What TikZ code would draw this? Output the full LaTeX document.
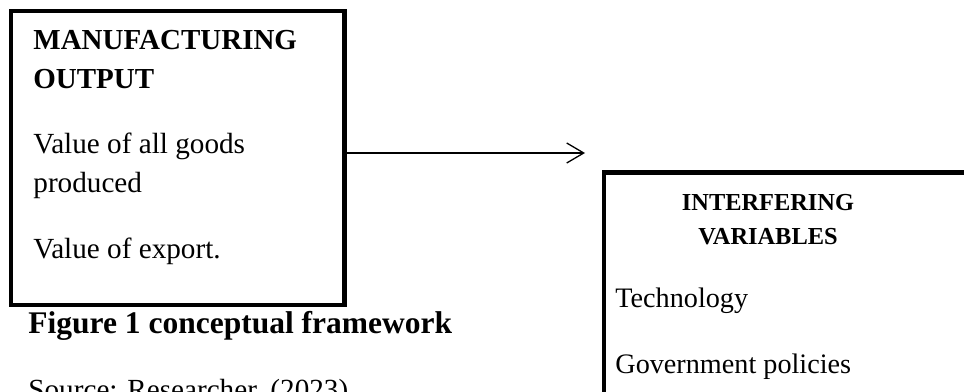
\documentclass[tikz,border=0pt]{standalone}
\usepackage{fontspec}
\setmainfont{Liberation Serif}
\usetikzlibrary{arrows.meta}
\definecolor{inkc}{RGB}{0,0,0}

\begin{document}
\begin{tikzpicture}[x=0.5pt, y=-0.5pt, >={Straight Barb[length=8.5pt, width=10pt]}, inkc]
  \tikzset{
    frame/.style={draw=inkc, line width=2.4pt, inner sep=0pt, outer sep=0pt, anchor=north west},
    txt/.style={anchor=base west, inner sep=0pt},
    head/.style={font=\fontsize{14.5}{17}\selectfont\bfseries},
    body/.style={font=\fontsize{14.6}{17}\selectfont},
  }
  % page is 964 x 391 px, y runs downwards
  \clip (0,0) rectangle (964,391);

  % left box: manufacturing output
  \node[frame, minimum width=166.75pt, minimum height=147pt] (output) at (11,11) {};
  \node[txt, head] (outhead1) at (33,49) {MANUFACTURING};
  \node[txt, head] (outhead2) at (33,88) {OUTPUT};
  \node[txt, body] (goods1) at (33,153) {Value of all goods};
  \node[txt, body] (goods2) at (33,192) {produced};
  \node[txt, body] (export) at (33,258) {Value of export.};

  % caption and source under the left box
  \node[txt, font=\fontsize{15.75}{18}\selectfont\bfseries] (caption) at (28,333) {Figure 1 conceptual framework};
  \node[txt, body] (source) at (28,399) {Source: Researcher, (2023)};

  % right box: interfering variables (runs off the page)
  \node[frame, minimum width=198pt, minimum height=130pt] (interfering) at (604,172.5) {};
  \node[anchor=base, inner sep=0pt, font=\fontsize{12.2}{14}\selectfont\bfseries] (inthead1) at (768,210) {INTERFERING};
  \node[anchor=base, inner sep=0pt, font=\fontsize{12.2}{14}\selectfont\bfseries] (inthead2) at (768,244) {VARIABLES};
  \node[txt, font=\fontsize{14.1}{17}\selectfont] (tech) at (615,307) {Technology};
  \node[txt, font=\fontsize{14.1}{17}\selectfont] (gov) at (615,373) {Government policies};

  % connector, free end above the right box
  \coordinate (arrowend) at (585,153);
  \draw[->, line width=0.65pt] (output.east |- arrowend) -- (arrowend);
\end{tikzpicture}
\end{document}
